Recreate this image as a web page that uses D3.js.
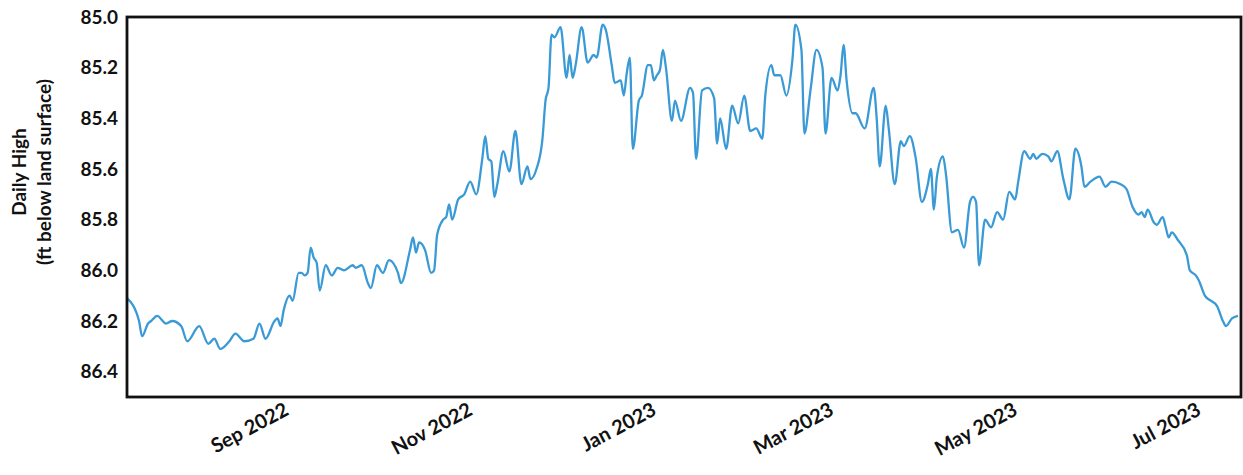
<!DOCTYPE html>
<html><head><meta charset="utf-8">
<script src="https://cdn.jsdelivr.net/npm/d3@7"></script>
<style>body{margin:0;background:#fff}text{font-family:Lato,"Open Sans",sans-serif;font-weight:700;fill:#111}</style>
</head><body><svg id="c" width="1243" height="475"></svg>
<script>
const dates = [
"2022-07-09","2022-07-13","2022-07-14","2022-07-16","2022-07-17","2022-07-19","2022-07-22","2022-07-24","2022-07-27","2022-07-29",
"2022-08-02","2022-08-05","2022-08-07","2022-08-09","2022-08-12","2022-08-14","2022-08-17","2022-08-20","2022-08-22","2022-08-24","2022-08-27","2022-08-28","2022-08-29","2022-08-30",
"2022-09-01","2022-09-02","2022-09-04","2022-09-05","2022-09-06","2022-09-07","2022-09-08","2022-09-09","2022-09-10","2022-09-11","2022-09-13","2022-09-15","2022-09-17","2022-09-19","2022-09-22","2022-09-23","2022-09-25","2022-09-27","2022-09-28","2022-09-30",
"2022-10-02","2022-10-04","2022-10-07","2022-10-08","2022-10-11","2022-10-12","2022-10-13","2022-10-14","2022-10-16","2022-10-18","2022-10-19","2022-10-20","2022-10-22","2022-10-23","2022-10-24","2022-10-25","2022-10-27","2022-10-29","2022-10-31",
"2022-11-02","2022-11-04","2022-11-05","2022-11-06","2022-11-07","2022-11-08","2022-11-09","2022-11-11","2022-11-13","2022-11-15","2022-11-17","2022-11-19","2022-11-20","2022-11-22","2022-11-24","2022-11-25","2022-11-26","2022-11-27","2022-11-28","2022-11-30",
"2022-12-02","2022-12-03","2022-12-04","2022-12-05","2022-12-07","2022-12-09","2022-12-11","2022-12-12","2022-12-14","2022-12-15","2022-12-17","2022-12-18","2022-12-20","2022-12-21","2022-12-22","2022-12-23","2022-12-24","2022-12-26","2022-12-27","2022-12-29","2022-12-30","2022-12-31",
"2023-01-01","2023-01-02","2023-01-03","2023-01-04","2023-01-06","2023-01-07","2023-01-09","2023-01-12","2023-01-13","2023-01-14","2023-01-16","2023-01-18","2023-01-20","2023-01-21","2023-01-22","2023-01-24","2023-01-26","2023-01-28","2023-01-30",
"2023-02-01","2023-02-03","2023-02-05","2023-02-06","2023-02-08","2023-02-09","2023-02-11","2023-02-13","2023-02-15","2023-02-16","2023-02-18","2023-02-19","2023-02-21","2023-02-23","2023-02-25","2023-02-26","2023-02-28",
"2023-03-02","2023-03-03","2023-03-04","2023-03-05","2023-03-07","2023-03-08","2023-03-11","2023-03-14","2023-03-15","2023-03-16","2023-03-18","2023-03-19","2023-03-21","2023-03-23","2023-03-24","2023-03-26","2023-03-28","2023-03-30",
"2023-04-01","2023-04-02","2023-04-03","2023-04-04","2023-04-06","2023-04-07","2023-04-09","2023-04-11","2023-04-13","2023-04-15","2023-04-16","2023-04-17","2023-04-18","2023-04-20","2023-04-22","2023-04-24","2023-04-26","2023-04-28","2023-04-30",
"2023-05-01","2023-05-03","2023-05-05","2023-05-06","2023-05-07","2023-05-09","2023-05-11","2023-05-12","2023-05-14","2023-05-16","2023-05-18","2023-05-20","2023-05-22","2023-05-23","2023-05-25","2023-05-28","2023-05-30",
"2023-06-01","2023-06-04","2023-06-06","2023-06-08","2023-06-10","2023-06-11","2023-06-12","2023-06-13","2023-06-15","2023-06-16","2023-06-18","2023-06-19","2023-06-20","2023-06-21","2023-06-23","2023-06-26","2023-06-27","2023-06-29","2023-06-30",
"2023-07-02","2023-07-04","2023-07-06","2023-07-08","2023-07-09","2023-07-11","2023-07-13"
];
const dailyHigh = [
86.11,86.20,86.26,86.21,86.20,86.18,86.21,86.20,86.22,86.28,
86.22,86.29,86.27,86.31,86.28,86.25,86.28,86.27,86.21,86.27,86.20,86.19,86.22,86.16,
86.10,86.12,86.01,86.01,86.02,86.01,85.91,85.95,85.97,86.08,85.98,86.02,85.99,86.00,85.98,85.99,85.98,86.05,86.07,85.98,
86.01,85.96,86.01,86.05,85.92,85.87,85.93,85.89,85.92,86.01,86.00,85.86,85.80,85.79,85.74,85.80,85.72,85.70,85.65,
85.70,85.56,85.47,85.56,85.57,85.71,85.66,85.53,85.61,85.45,85.66,85.59,85.64,85.60,85.48,85.33,85.28,85.07,85.08,85.04,
85.24,85.15,85.24,85.19,85.04,85.18,85.15,85.16,85.03,85.05,85.19,85.26,85.25,85.31,85.22,85.16,85.52,85.33,85.31,85.19,85.19,85.25,
85.23,85.21,85.13,85.20,85.41,85.33,85.41,85.28,85.30,85.56,85.29,85.28,85.32,85.50,85.40,85.52,85.35,85.42,85.31,
85.45,85.44,85.48,85.31,85.19,85.23,85.23,85.31,85.17,85.03,85.13,85.46,85.29,85.13,85.20,85.46,85.24,
85.29,85.23,85.11,85.25,85.38,85.38,85.44,85.28,85.40,85.59,85.35,85.44,85.66,85.49,85.51,85.47,85.56,85.73,
85.66,85.60,85.76,85.63,85.55,85.62,85.85,85.84,85.91,85.73,85.71,85.73,85.98,85.80,85.83,85.77,85.80,85.69,85.72,
85.65,85.53,85.56,85.54,85.56,85.54,85.55,85.57,85.53,85.64,85.72,85.52,85.59,85.67,85.65,85.63,85.67,
85.65,85.66,85.68,85.75,85.78,85.77,85.79,85.76,85.81,85.82,85.79,85.83,85.87,85.85,85.88,85.94,86.00,86.02,86.04,
86.10,86.12,86.14,86.20,86.22,86.19,86.18
];
const yTickValues = [85.0, 85.2, 85.4, 85.6, 85.8, 86.0, 86.2, 86.4];
const xTickDates = ["2022-09-01","2022-11-01","2023-01-01","2023-03-01","2023-05-01","2023-07-01"];
const xDomain = ["2022-07-09","2023-07-14"];
const yDomain = [85.0, 86.5];
const yTitleLines = ["Daily High", "(ft below land surface)"];

const parse = d3.utcParse("%Y-%m-%d");
const data = dates.map((d, i) => ({date: parse(d), value: dailyHigh[i]}));

const W = 1243, H = 475;
const m = {left: 127, top: 17, right: 2, bottom: 78};
const svg = d3.select("#c");

const x = d3.scaleUtc().domain(xDomain.map(parse)).range([m.left, W - m.right]);
const y = d3.scaleLinear().domain(yDomain).range([m.top, H - m.bottom]);

svg.append("defs").append("clipPath").attr("id", "clip")
  .append("rect").attr("x", m.left).attr("y", m.top)
  .attr("width", W - m.left - m.right).attr("height", H - m.top - m.bottom);

const line = d3.line().x(d => x(d.date)).y(d => y(d.value)).curve(d3.curveMonotoneX);
svg.append("path").datum(data)
  .attr("clip-path", "url(#clip)")
  .attr("fill", "none").attr("stroke", "#3a9ad6").attr("stroke-width", 2.3)
  .attr("stroke-linejoin", "round").attr("d", line);

// frame
svg.append("rect").attr("x", m.left).attr("y", m.top)
  .attr("width", W - m.left - m.right).attr("height", H - m.top - m.bottom)
  .attr("fill", "none").attr("stroke", "#111").attr("stroke-width", 2.8);

// y axis
const yAxis = svg.append("g").attr("transform", `translate(${m.left},0)`)
  .call(d3.axisLeft(y).tickValues(yTickValues).tickFormat(d3.format(".1f")).tickSize(0).tickPadding(9));
yAxis.select(".domain").remove();
yAxis.selectAll("text").style("font-size", "19px").style("font-family", "Lato, sans-serif").style("font-weight", 700).attr("fill", "#111");

// x axis
const xAxis = svg.append("g").attr("transform", `translate(0,${H - m.bottom})`)
  .call(d3.axisBottom(x).tickValues(xTickDates.map(parse)).tickFormat(d3.utcFormat("%b %Y")).tickSize(0));
xAxis.select(".domain").remove();
xAxis.selectAll("text")
  .attr("x", 0).attr("y", 0).attr("dy", 0)
  .attr("text-anchor", "end")
  .attr("transform", "translate(0,17) rotate(-28)")
  .style("font-size", "20px").style("font-family", "Lato, sans-serif").style("font-weight", 700).attr("fill", "#111");

// y title
const yt = svg.append("text")
  .attr("transform", `translate(26,172) rotate(-90)`)
  .attr("text-anchor", "middle")
  .style("font-size", "19px");
yt.selectAll("tspan").data(yTitleLines).join("tspan")
  .attr("x", 0).attr("dy", (d, i) => i === 0 ? 0 : 25).text(d => d);
</script>
</body></html>
